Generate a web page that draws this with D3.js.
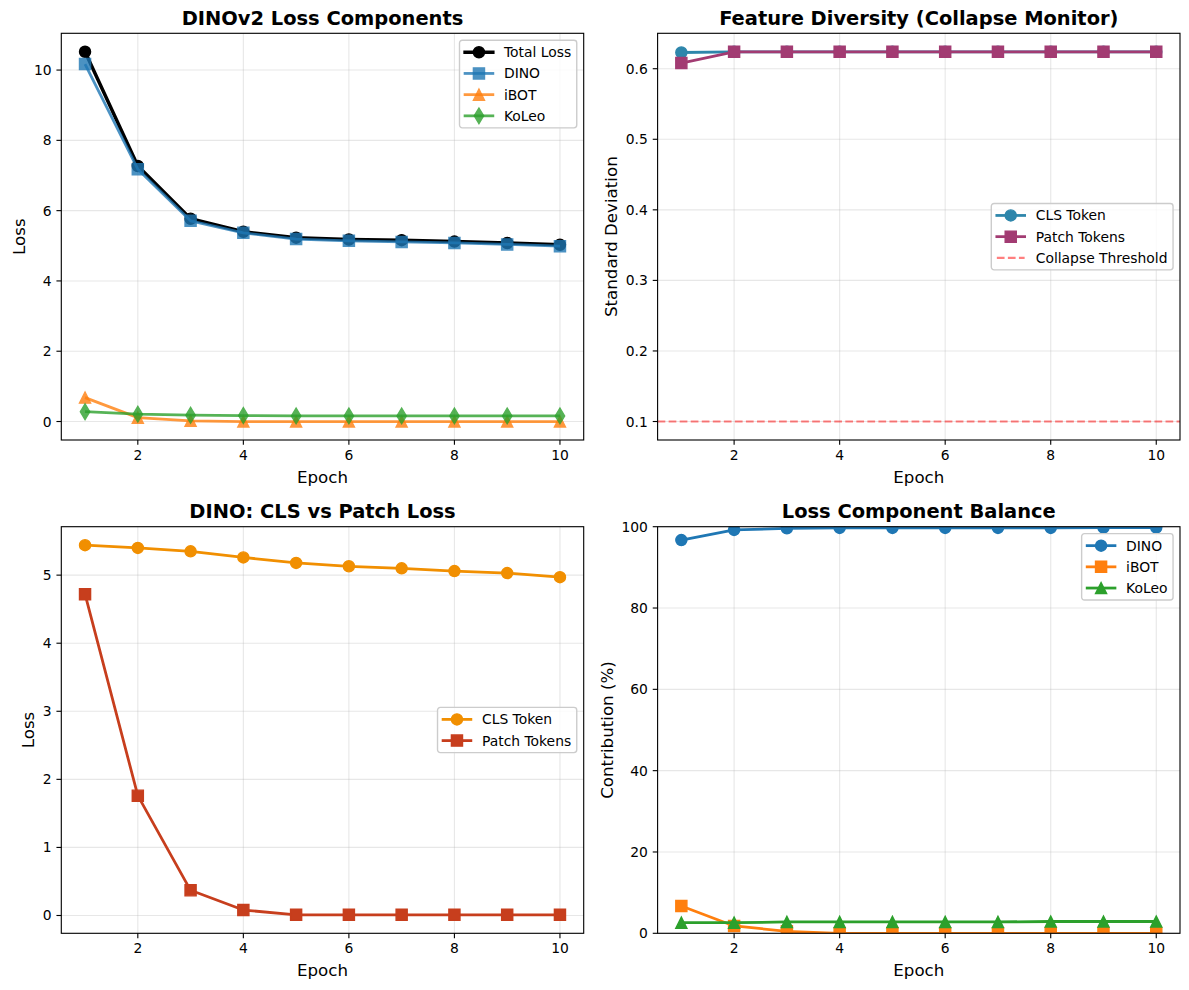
<!DOCTYPE html>
<html>
<head>
<meta charset="utf-8">
<script src="https://cdn.jsdelivr.net/npm/d3@7"></script>
<style>
  body { margin: 0; background: #fff; }
  text { font-family: "DejaVu Sans", sans-serif; fill: #000; }
</style>
</head>
<body>
<div id="chart"></div>
<script>
// data
const epochs = [1, 2, 3, 4, 5, 6, 7, 8, 9, 10];

const totalLoss = [10.52, 7.27, 5.77, 5.40, 5.23, 5.18, 5.16, 5.12, 5.08, 5.03];
const dinoLoss  = [10.17, 7.18, 5.71, 5.37, 5.19, 5.14, 5.11, 5.08, 5.04, 4.99];
const ibotLoss  = [0.68, 0.11, 0.02, 0.0, 0.0, 0.0, 0.0, 0.0, 0.0, 0.0];
const koleoLoss = [0.28, 0.21, 0.18, 0.17, 0.16, 0.16, 0.16, 0.16, 0.16, 0.16];

const clsStd   = [0.623, 0.624, 0.624, 0.624, 0.624, 0.624, 0.624, 0.624, 0.624, 0.624];
const patchStd = [0.608, 0.624, 0.624, 0.624, 0.624, 0.624, 0.624, 0.624, 0.624, 0.624];
const collapseThreshold = 0.1;

const clsLoss   = [5.44, 5.40, 5.35, 5.26, 5.18, 5.13, 5.10, 5.06, 5.03, 4.97];
const patchLoss = [4.72, 1.76, 0.37, 0.08, 0.01, 0.01, 0.01, 0.01, 0.01, 0.01];

const dinoPct  = [96.7, 99.2, 99.6, 99.7, 99.7, 99.7, 99.7, 99.7, 99.8, 99.8];
const ibotPct  = [6.7, 1.8, 0.5, 0.0, 0.0, 0.0, 0.0, 0.0, 0.0, 0.0];
const koleoPct = [2.6, 2.6, 2.8, 2.8, 2.8, 2.8, 2.8, 2.9, 2.9, 2.9];

const xTicks = [2, 4, 6, 8, 10];
const lossTicks = [0, 2, 4, 6, 8, 10];
const stdTicks = [0.1, 0.2, 0.3, 0.4, 0.5, 0.6];
const tokenLossTicks = [0, 1, 2, 3, 4, 5];
const pctTicks = [0, 20, 40, 60, 80, 100];

const W = 1189, H = 990;
const PT = 100 / 72;
const tickFs = 10 * PT, labelFs = 12 * PT, titleFs = 14 * PT;
const MS = 8 * PT;

const svg = d3.select("#chart").append("svg")
  .attr("width", W)
  .attr("height", H);

function markerPath(shape, s) {
  const h = s / 2;
  if (shape === "circle") return d3.symbol(d3.symbolCircle, Math.PI * h * h)();
  if (shape === "square") return `M${-h},${-h}H${h}V${h}H${-h}Z`;
  if (shape === "triangle") return `M0,${-h}L${h},${h}L${-h},${h}Z`;
  if (shape === "diamond") {
    const a = 0.7071 * s, b = 0.6 * a;
    return `M0,${-a}L${b},0L0,${a}L${-b},0Z`;
  }
  return "";
}

let clipId = 0;

function drawPanel(cfg) {
  const { x0, x1, y0, y1 } = cfg;
  const g = svg.append("g");

  const x = d3.scaleLinear().domain([0.55, 10.45]).range([x0, x1]);

  let yDomain = cfg.yDomain;
  if (!yDomain) {
    const all = cfg.series.flatMap(s => s.values).concat(cfg.hlines ? cfg.hlines.map(h => h.value) : []);
    const [lo, hi] = d3.extent(all);
    const pad = (hi - lo) * 0.05;
    yDomain = [lo - pad, hi + pad];
  }
  const y = d3.scaleLinear().domain(yDomain).range([y1, y0]);

  const id = "clip" + (clipId++);
  svg.append("clipPath").attr("id", id)
    .append("rect")
    .attr("x", x0).attr("y", y0)
    .attr("width", x1 - x0).attr("height", y1 - y0);

  // grid
  const grid = g.append("g").attr("stroke", "#b0b0b0").attr("stroke-opacity", 0.3).attr("stroke-width", 0.8 * PT);
  grid.selectAll(".gx").data(xTicks).enter().append("line")
    .attr("x1", d => x(d)).attr("x2", d => x(d))
    .attr("y1", y0).attr("y2", y1);
  grid.selectAll(".gy").data(cfg.yTicks).enter().append("line")
    .attr("x1", x0).attr("x2", x1)
    .attr("y1", d => y(d)).attr("y2", d => y(d));

  // data
  const plot = g.append("g").attr("clip-path", `url(#${id})`);

  (cfg.hlines || []).forEach(h => {
    plot.append("line")
      .attr("x1", x0).attr("x2", x1)
      .attr("y1", y(h.value)).attr("y2", y(h.value))
      .attr("stroke", h.color)
      .attr("stroke-opacity", h.alpha)
      .attr("stroke-width", h.lw * PT)
      .attr("stroke-dasharray", `${3.7 * h.lw * PT},${1.6 * h.lw * PT}`);
  });

  const line = d3.line().x((d, i) => x(epochs[i])).y(d => y(d));
  cfg.series.forEach(s => {
    const sg = plot.append("g");
    sg.append("path")
      .attr("d", line(s.values))
      .attr("fill", "none")
      .attr("stroke", s.color)
      .attr("stroke-width", s.lw * PT)
      .attr("stroke-linejoin", "round")
      .attr("stroke-opacity", s.alpha);
    sg.selectAll(".m").data(s.values).enter().append("path")
      .attr("transform", (d, i) => `translate(${x(epochs[i])},${y(d)})`)
      .attr("d", markerPath(s.marker, MS))
      .attr("fill", s.color)
      .attr("stroke", s.color)
      .attr("stroke-width", PT)
      .attr("opacity", s.alpha);
  });

  // spines
  g.append("rect")
    .attr("x", x0).attr("y", y0)
    .attr("width", x1 - x0).attr("height", y1 - y0)
    .attr("fill", "none")
    .attr("stroke", "#000")
    .attr("stroke-width", 0.8 * PT);

  // x ticks
  const tl = 3.5 * PT;
  xTicks.forEach(t => {
    g.append("line")
      .attr("x1", x(t)).attr("x2", x(t))
      .attr("y1", y1).attr("y2", y1 + tl)
      .attr("stroke", "#000").attr("stroke-width", 0.8 * PT);
    g.append("text")
      .attr("x", x(t)).attr("y", y1 + 20)
      .attr("text-anchor", "middle")
      .attr("font-size", tickFs)
      .text(t);
  });

  // y ticks
  const fmt = cfg.yFormat || (d => d);
  let maxW = 0;
  cfg.yTicks.forEach(t => {
    g.append("line")
      .attr("x1", x0 - tl).attr("x2", x0)
      .attr("y1", y(t)).attr("y2", y(t))
      .attr("stroke", "#000").attr("stroke-width", 0.8 * PT);
    const txt = g.append("text")
      .attr("x", x0 - 2 * tl).attr("y", y(t))
      .attr("dy", "0.36em")
      .attr("text-anchor", "end")
      .attr("font-size", tickFs)
      .text(fmt(t));
    maxW = Math.max(maxW, txt.node().getComputedTextLength());
  });

  // axis labels and title
  g.append("text")
    .attr("x", (x0 + x1) / 2).attr("y", y1 + 43)
    .attr("text-anchor", "middle")
    .attr("font-size", labelFs)
    .text("Epoch");

  const ly = (y0 + y1) / 2;
  const lx = x0 - 2 * tl - maxW - 4 * PT - 9;
  g.append("text")
    .attr("transform", `translate(${lx},${ly}) rotate(-90)`)
    .attr("dy", "0.36em")
    .attr("text-anchor", "middle")
    .attr("font-size", labelFs)
    .text(cfg.ylabel);

  g.append("text")
    .attr("x", (x0 + x1) / 2).attr("y", y0 - 8.3)
    .attr("text-anchor", "middle")
    .attr("font-size", titleFs)
    .attr("font-weight", "bold")
    .text(cfg.title);

  // legend
  const items = cfg.series.map(s => ({ label: s.name, color: s.color, marker: s.marker, lw: s.lw, alpha: s.alpha }))
    .concat((cfg.hlines || []).map(h => ({ label: h.name, color: h.color, lw: h.lw, alpha: h.alpha, dash: true })));
  const lg = g.append("g");
  const frame = lg.append("rect");
  const pad = 0.4 * tickFs, hlen = 2 * tickFs, hpad = 0.8 * tickFs, rowH = 21.2;
  let textW = 0;
  const rows = items.map((it, i) => {
    const row = lg.append("g").attr("transform", `translate(0,${12 + i * rowH})`);
    const t = row.append("text")
      .attr("x", pad + hlen + hpad).attr("y", 0)
      .attr("dy", "0.36em")
      .attr("font-size", tickFs)
      .text(it.label);
    textW = Math.max(textW, t.node().getComputedTextLength());
    const hl = row.append("line")
      .attr("x1", pad).attr("x2", pad + hlen)
      .attr("y1", 0).attr("y2", 0)
      .attr("stroke", it.color)
      .attr("stroke-width", it.lw * PT)
      .attr("stroke-opacity", it.alpha);
    if (it.dash) {
      hl.attr("stroke-dasharray", `${3.7 * it.lw * PT},${1.6 * it.lw * PT}`);
    } else {
      hl.attr("stroke-linecap", "square");
      row.append("path")
        .attr("transform", `translate(${pad + hlen / 2},0)`)
        .attr("d", markerPath(it.marker, MS))
        .attr("fill", it.color)
        .attr("stroke", it.color)
        .attr("stroke-width", PT)
        .attr("opacity", it.alpha);
    }
    return row;
  });
  const lw = pad + hlen + hpad + textW + pad;
  const lh = 24 + (items.length - 1) * rowH;
  frame.attr("width", lw).attr("height", lh)
    .attr("rx", 2.8).attr("ry", 2.8)
    .attr("fill", "#fff").attr("fill-opacity", 0.8)
    .attr("stroke", "#cccccc").attr("stroke-width", PT);
  const bpad = 0.5 * tickFs;
  const lx0 = x1 - bpad - lw;
  const ly0 = cfg.legend === "center right" ? (y0 + y1) / 2 - lh / 2 : y0 + bpad;
  lg.attr("transform", `translate(${lx0},${ly0})`);
}

const colL = [61.3, 583.7], colR = [657.6, 1180];
const rowT = [33.3, 440], rowB = [526.7, 933.3];

drawPanel({
  x0: colL[0], x1: colL[1], y0: rowT[0], y1: rowT[1],
  title: "DINOv2 Loss Components", ylabel: "Loss",
  yTicks: lossTicks, legend: "upper right",
  series: [
    { name: "Total Loss", values: totalLoss, color: "#000000", marker: "circle", lw: 2.5, alpha: 1 },
    { name: "DINO", values: dinoLoss, color: "#1f77b4", marker: "square", lw: 2, alpha: 0.8 },
    { name: "iBOT", values: ibotLoss, color: "#ff7f0e", marker: "triangle", lw: 2, alpha: 0.8 },
    { name: "KoLeo", values: koleoLoss, color: "#2ca02c", marker: "diamond", lw: 2, alpha: 0.8 }
  ]
});

drawPanel({
  x0: colR[0], x1: colR[1], y0: rowT[0], y1: rowT[1],
  title: "Feature Diversity (Collapse Monitor)", ylabel: "Standard Deviation",
  yTicks: stdTicks, yFormat: d3.format(".1f"), legend: "center right",
  series: [
    { name: "CLS Token", values: clsStd, color: "#2E86AB", marker: "circle", lw: 2, alpha: 1 },
    { name: "Patch Tokens", values: patchStd, color: "#A23B72", marker: "square", lw: 2, alpha: 1 }
  ],
  hlines: [{ name: "Collapse Threshold", value: collapseThreshold, color: "#ff0000", lw: 1.5, alpha: 0.5 }]
});

drawPanel({
  x0: colL[0], x1: colL[1], y0: rowB[0], y1: rowB[1],
  title: "DINO: CLS vs Patch Loss", ylabel: "Loss",
  yTicks: tokenLossTicks, legend: "center right",
  series: [
    { name: "CLS Token", values: clsLoss, color: "#F18F01", marker: "circle", lw: 2, alpha: 1 },
    { name: "Patch Tokens", values: patchLoss, color: "#C73E1D", marker: "square", lw: 2, alpha: 1 }
  ]
});

drawPanel({
  x0: colR[0], x1: colR[1], y0: rowB[0], y1: rowB[1],
  title: "Loss Component Balance", ylabel: "Contribution (%)",
  yTicks: pctTicks, yDomain: [0, 100], legend: "upper right",
  series: [
    { name: "DINO", values: dinoPct, color: "#1f77b4", marker: "circle", lw: 2, alpha: 1 },
    { name: "iBOT", values: ibotPct, color: "#ff7f0e", marker: "square", lw: 2, alpha: 1 },
    { name: "KoLeo", values: koleoPct, color: "#2ca02c", marker: "triangle", lw: 2, alpha: 1 }
  ]
});
</script>
</body>
</html>
